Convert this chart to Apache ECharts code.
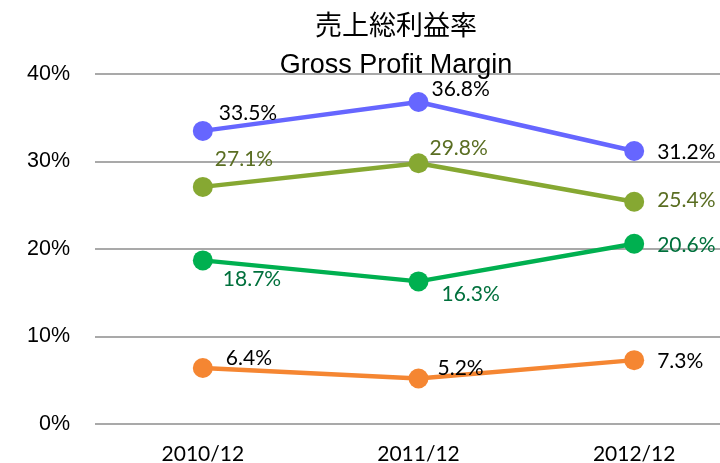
<!DOCTYPE html>
<html>
<head>
<meta charset="utf-8">
<script src="https://cdn.jsdelivr.net/npm/echarts@6/dist/echarts.min.js"></script>
<style>
  html, body { margin: 0; padding: 0; background: #fff; }
  #chart { width: 720px; height: 463px; }
</style>
</head>
<body>
<div id="chart"></div>
<script>
// 数据
const categories = ['2010/12', '2011/12', '2012/12']
const yTicks = [0, 10, 20, 30, 40]
const seriesA = [33.5, 36.8, 31.2]   // blue
const seriesB = [27.1, 29.8, 25.4]   // olive
const seriesC = [18.7, 16.3, 20.6]   // green
const seriesD = [6.4, 5.2, 7.3]      // orange

// label offsets per point (style only)
const offA = [[1, -18], [-2, -13], [8, 1]]
const offB = [[-3, -28], [-4, -15], [8, -2]]
const offC = [[5, 19], [8, 13], [8, 1]]
const offD = [[8, -10], [4, -10], [8, 1]]

const labelFont = 'Lato, "Open Sans", sans-serif'

function makeSeries (name, values, offsets, color, labelColor) {
  return {
    name: name,
    type: 'line',
    symbol: 'circle',
    symbolSize: 20,
    lineStyle: { width: 4.5, color: color },
    itemStyle: { color: color },
    data: values.map((v, i) => ({
      value: v,
      label: { offset: offsets[i] }
    })),
    label: {
      show: true,
      position: 'right',
      distance: 5,
      color: labelColor,
      fontSize: 21,
      fontFamily: labelFont,
      formatter: p => p.value.toFixed(1) + '%'
    },
    z: 3
  }
}

const chart = echarts.init(document.getElementById('chart'))
chart.setOption({
  backgroundColor: '#fff',
  animation: false,
  title: {
    text: '売上総利益率\nGross Profit Margin',
    left: 391,
    top: 4,
    textAlign: 'center',
    textStyle: {
      fontSize: 27,
      fontWeight: 'normal',
      color: '#000',
      lineHeight: 38,
      fontFamily: '"Liberation Sans", "Noto Sans CJK JP", sans-serif'
    }
  },
  grid: { left: 95, right: -22, top: 74, bottom: 39, outerBoundsMode: 'none', containLabel: false },
  xAxis: {
    type: 'category',
    data: categories,
    boundaryGap: true,
    axisLine: { show: false },
    axisTick: { show: false },
    axisLabel: {
      margin: 20,
      fontSize: 21,
      color: '#000',
      fontFamily: labelFont
    }
  },
  yAxis: {
    type: 'value',
    min: yTicks[0],
    max: yTicks[yTicks.length - 1],
    interval: 10,
    axisLine: { show: false },
    axisTick: { show: false },
    splitLine: { lineStyle: { color: '#8c8c8c', width: 1.5 } },
    axisLabel: {
      margin: 25,
      fontSize: 21.5,
      color: '#000',
      fontFamily: '"Liberation Sans", Arial, sans-serif',
      formatter: v => v + '%'
    }
  },
  series: [
    makeSeries('A', seriesA, offA, '#6666ff', '#000'),
    makeSeries('B', seriesB, offB, '#86a832', '#5a6e22'),
    makeSeries('C', seriesC, offC, '#00b050', '#00703c'),
    makeSeries('D', seriesD, offD, '#f58632', '#000')
  ]
})
</script>
</body>
</html>
